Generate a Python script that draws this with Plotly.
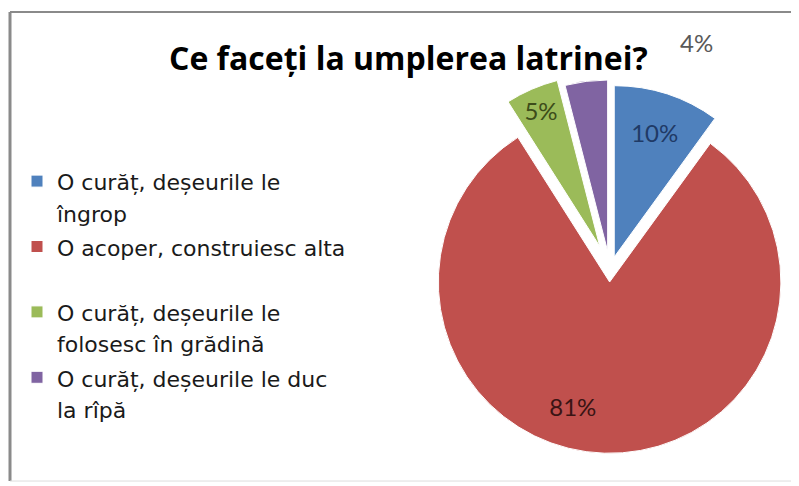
import plotly.graph_objects as go

labels = ["O curăț, deșeurile le<br>îngrop",
          "O acoper, construiesc alta<br> ",
          "O curăț, deșeurile le<br>folosesc în grădină",
          "O curăț, deșeurile le duc<br>la rîpă"]
values = [10, 81, 5, 4]
colors = ["#4F81BD", "#C0504D", "#9BBB59", "#8064A2"]
label_colors = ["#1F3A66", "#3A1414", "#3D4D1A", "#595959"]
pulls = [0.08, 0.07, 0.15, 0.11]

title = "Ce faceți la umplerea latrinei?"

NB = "\u00a0"
texts = [f"{v}%" for v in values]
inside_texts = list(texts)
inside_texts[1] = (NB + "<br>") * 3 + texts[1] + NB * 12  # nudge label down-left like Excel
inside_texts[3] = ""  # purple label sits away from the pie, as in the original

legend_labels = ['<span style="font-size:22px">' + l.replace("<br>", '</span><br><span style="font-size:22px">') + "</span>"
                 for l in labels]

fig = go.Figure()
fig.add_trace(go.Pie(
    labels=legend_labels, values=values, text=inside_texts, textinfo="text",
    sort=False, direction="clockwise", rotation=0, pull=pulls,
    marker=dict(colors=colors, line=dict(color="white", width=1)),
    textposition="inside", insidetextorientation="horizontal",
    textfont=dict(family="Lato", size=24, color=label_colors),
    domain=dict(x=[0.5069, 1.0], y=[0.0556, 0.8662]),
    hoverinfo="percent",
))

fig.add_annotation(text=texts[3], x=688 / 799, y=1 - 34 / 486, xref="paper", yref="paper",
                   xanchor="center", yanchor="middle", showarrow=False,
                   font=dict(family="Lato", size=24, color=label_colors[3]))
fig.add_annotation(text=f"<b>{title}</b>", x=400 / 799, y=1 - 49 / 486, xref="paper", yref="paper",
                   xanchor="center", yanchor="middle", showarrow=False,
                   font=dict(family="Open Sans", size=32, color="black"))

# chart frame
fig.add_shape(type="line", xref="paper", yref="paper", x0=2 / 799, x1=2 / 799, y0=0.0267, y1=0.9918,
              line=dict(color="#8a8a8a", width=3))
fig.add_shape(type="line", xref="paper", yref="paper", x0=2 / 799, x1=1.01, y0=0.9918, y1=0.9918,
              line=dict(color="#8a8a8a", width=2))
fig.add_shape(type="line", xref="paper", yref="paper", x0=2 / 799, x1=1.01, y0=0.0267, y1=0.0267,
              line=dict(color="#dddddd", width=1))

fig.update_layout(
    width=799, height=486,
    margin=dict(l=0, r=0, t=0, b=0),
    paper_bgcolor="white", plot_bgcolor="white",
    showlegend=True,
    legend=dict(x=9 / 799, xanchor="left", y=1 - 151 / 486, yanchor="top",
                valign="top", font=dict(family="DejaVu Sans", size=24, color="#1a1a1a"),
                bgcolor="rgba(0,0,0,0)"),
)

fig.write_html("out.html")
